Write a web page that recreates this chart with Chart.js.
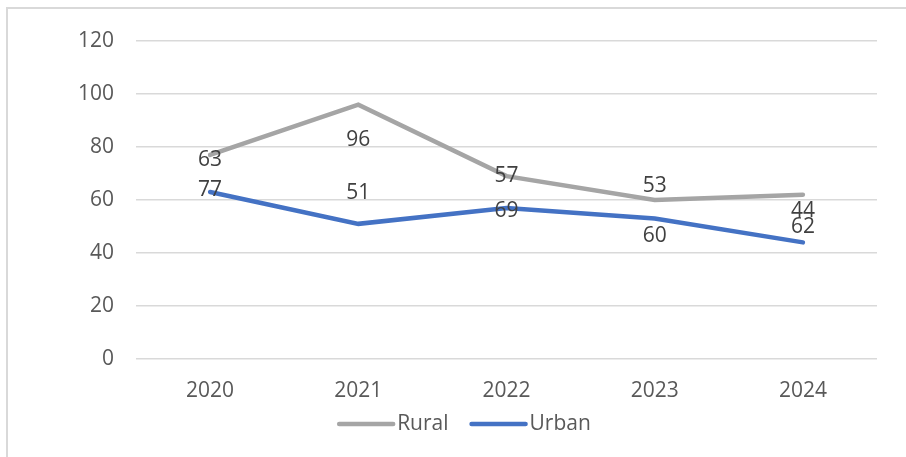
<!DOCTYPE html>
<html>
<head>
<meta charset="utf-8">
<script src="https://cdn.jsdelivr.net/npm/chart.js@4"></script>
<style>
  html, body { margin: 0; padding: 0; background: #fff; }
  #wrap { position: relative; width: 906px; height: 457px; overflow: hidden; }
  #frame { position: absolute; left: 6px; top: 7px; width: 960px; height: 500px;
           border-left: 2px solid #d9d9d9; border-top: 2px solid #d9d9d9; }
  canvas { position: absolute; left: 0; top: 0; }
</style>
</head>
<body>
<div id="wrap">
  <div id="frame"></div>
  <canvas id="chart" width="906" height="457"></canvas>
</div>
<script>
// values
const years = ['2020', '2021', '2022', '2023', '2024'];
const rural = [77, 96, 69, 60, 62];
const urban = [63, 51, 57, 53, 44];
// the label texts shown next to each line (as printed in the original)
const ruralLabels = ['63', '96', '57', '53', '44'];
const urbanLabels = ['77', '51', '69', '60', '62'];

const FONT = "'Open Sans', sans-serif";

// draws the value labels next to the points, nudged up/down like the original
const pointLabels = {
    id: 'pointLabels',
    afterDatasetsDraw(chart, args, opts) {
        const ctx = chart.ctx;
        ctx.save();
        ctx.font = '21px ' + FONT;
        ctx.fillStyle = '#404040';
        ctx.textAlign = 'center';
        ctx.textBaseline = 'middle';
        chart.data.datasets.forEach((ds, i) => {
            const meta = chart.getDatasetMeta(i);
            const texts = opts.texts[i];
            const dy = opts.dy[i];
            meta.data.forEach((pt, j) => {
                ctx.fillText(texts[j], pt.x, pt.y + dy[j]);
            });
        });
        ctx.restore();
    }
};

// excel style legend: line swatch, short gap, name; centred under the plot
const lineLegend = {
    id: 'lineLegend',
    afterDraw(chart, args, opts) {
        const ctx = chart.ctx;
        ctx.save();
        ctx.font = '21px ' + FONT;
        ctx.textBaseline = 'middle';
        const items = chart.data.datasets.map(ds => ({
            ds, w: opts.swatch + opts.gap + ctx.measureText(ds.label).width
        }));
        const total = items.reduce((s, it) => s + it.w, 0) + opts.spacing * (items.length - 1);
        let x = opts.centerX - total / 2;
        items.forEach(it => {
            ctx.strokeStyle = it.ds.borderColor;
            ctx.lineWidth = it.ds.borderWidth;
            ctx.lineCap = 'round';
            ctx.beginPath();
            ctx.moveTo(x + 2, opts.y);
            ctx.lineTo(x + opts.swatch - 2, opts.y);
            ctx.stroke();
            ctx.fillStyle = '#595959';
            ctx.fillText(it.ds.label, x + opts.swatch + opts.gap, opts.y);
            x += it.w + opts.spacing;
        });
        ctx.restore();
    }
};

new Chart(document.getElementById('chart'), {
    type: 'line',
    data: {
        labels: years,
        datasets: [
            {
                label: 'Rural',
                data: rural,
                borderColor: '#A5A5A5',
                backgroundColor: '#A5A5A5',
                borderWidth: 4.5,
                borderCapStyle: 'round',
                pointRadius: 0,
                tension: 0
            },
            {
                label: 'Urban',
                data: urban,
                borderColor: '#4472C4',
                backgroundColor: '#4472C4',
                borderWidth: 4.5,
                borderCapStyle: 'round',
                pointRadius: 0,
                tension: 0
            }
        ]
    },
    options: {
        responsive: false,
        animation: false,
        layout: { padding: { left: 7, top: 41, right: 29, bottom: 57 } },
        scales: {
            x: {
                offset: true,
                grid: { display: false },
                border: { display: false },
                ticks: { color: '#595959', font: { family: FONT, size: 21 }, padding: 11 },
                afterFit: (axis) => { axis.height = 41; }
            },
            y: {
                min: 0,
                max: 120,
                grid: { color: '#D9D9D9', lineWidth: 1.5, drawTicks: false },
                border: { display: false },
                ticks: { stepSize: 20, color: '#595959', font: { family: FONT, size: 21 }, padding: 22 },
                afterFit: (axis) => { axis.width = 129; }
            }
        },
        plugins: {
            legend: { display: false },
            tooltip: { enabled: false },
            pointLabels: {
                texts: [ruralLabels, urbanLabels],
                dy: [[5, 35, 0, -14, 16], [-2, -31, 3, 17, -15]]
            },
            lineLegend: { centerX: 464, y: 424, swatch: 58, gap: 2, spacing: 21 }
        }
    },
    plugins: [pointLabels, lineLegend]
});
</script>
</body>
</html>
